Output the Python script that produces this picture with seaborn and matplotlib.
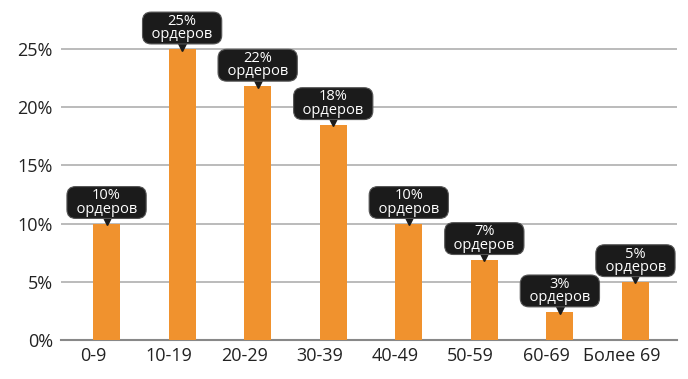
import matplotlib
matplotlib.use("Agg")
import matplotlib.pyplot as plt
import matplotlib.transforms as mtransforms
import seaborn as sns
import pandas as pd

# data
categories = ["0-9", "10-19", "20-29", "30-39", "40-49", "50-59", "60-69", "Более 69"]
shares = [10.0, 25.0, 21.8, 18.5, 10.0, 6.9, 2.4, 5.0]
callout_labels = ["10%", "25%", "22%", "18%", "10%", "7%", "3%", "5%"]
y_ticks = [0, 5, 10, 15, 20, 25]

BAR_COLOR = "#F0922E"
BOX_COLOR = "#1b1b1b"

sns.set_style("white")
plt.rcParams["font.family"] = ["Open Sans", "DejaVu Sans"]

df = pd.DataFrame({"age": categories, "share": shares})

fig = plt.figure(figsize=(6.88, 3.79), dpi=100)
ax = fig.add_axes([0.089, 0.103, 0.895, 0.884])

sns.barplot(data=df, x="age", y="share", color=BAR_COLOR, width=0.36,
            saturation=1, linewidth=0, ax=ax, zorder=3)

ax.set_ylim(0, 28.8)
ax.set_xlim(-0.6, 7.55)
ax.set_yticks(y_ticks)
ax.set_yticklabels([f"{t}%" for t in y_ticks], fontsize=13, color="#222")
for t in y_ticks[1:]:
    ax.axhline(t, color="#b5b5b5", lw=1.3, zorder=1)

# x labels sit a bit left of the bars, tick marks at bar right edges
ax.set_xticks([i - 0.18 for i in range(len(categories))])
ax.set_xticklabels(categories, fontsize=13, color="#222")
ax.tick_params(axis="x", length=0, pad=5)
ax.tick_params(axis="y", length=0, pad=6)
ax.set_xticks([i + 0.18 for i in range(len(categories))], minor=True)
ax.tick_params(axis="x", which="minor", length=6, width=1.3, color="#888", direction="out")
ax.set_xlabel("")
ax.set_ylabel("")

for side in ["top", "right", "left"]:
    ax.spines[side].set_visible(False)
ax.spines["bottom"].set_color("#888")
ax.spines["bottom"].set_linewidth(1.5)

# callouts above bars
up = mtransforms.offset_copy(ax.transData, fig=fig, x=0, y=2.5, units="points")
for i, (v, lab) in enumerate(zip(shares, callout_labels)):
    ax.plot(i, v, marker="v", markersize=6.5, color=BOX_COLOR, transform=up,
            zorder=5, clip_on=False)
    ax.annotate(f"{lab}\n  ордеров  ", xy=(i, v), xytext=(0, 5), textcoords="offset points",
                ha="center", va="bottom", fontsize=10.5, color="white",
                linespacing=0.85, zorder=6, annotation_clip=False,
                bbox=dict(boxstyle="round,pad=0.12,rounding_size=0.6",
                          fc=BOX_COLOR, ec="#555", lw=0.8))

fig.savefig("out.png", dpi=100)
